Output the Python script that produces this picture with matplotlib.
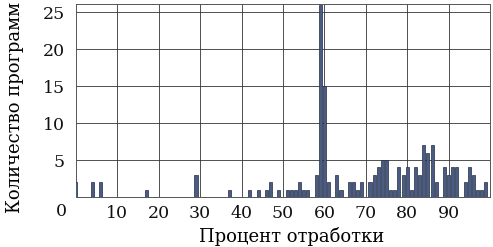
import matplotlib
matplotlib.use("Agg")
import matplotlib.pyplot as plt

percent = [0, 4, 6, 17, 29, 37, 42, 44, 46, 47, 49, 51, 52, 53, 54, 55, 56, 58,
           59, 60, 61, 63, 64, 66, 67, 68, 69, 71, 72, 73, 74, 75, 76, 77, 78,
           79, 80, 81, 82, 83, 84, 85, 86, 87, 89, 90, 91, 92, 94, 95, 96, 97,
           98, 99]
counts = [2, 2, 2, 1, 3, 1, 1, 1, 1, 2, 1, 1, 1, 1, 2, 1, 1, 3,
          26, 15, 2, 3, 1, 2, 2, 1, 2, 2, 3, 4, 5, 5, 1, 1, 4,
          3, 4, 1, 4, 3, 7, 6, 7, 2, 4, 3, 4, 4, 2, 4, 3, 1,
          1, 2]
xticks = [10, 20, 30, 40, 50, 60, 70, 80, 90]
yticks = [5, 10, 15, 20, 25]

plt.rcParams['font.family'] = ['DejaVu Serif']

fig = plt.figure(figsize=(4.93, 2.47), dpi=100)
ax = fig.add_axes([0.154, 0.2024, 0.84, 0.782])

ax.bar(percent, counts, width=0.75, color='#4b5b82', edgecolor='#1f2b47',
       linewidth=0.5, zorder=3)

ax.set_xlim(0, 100)
ax.set_ylim(0, 26.15)
ax.set_xticks(xticks)
ax.set_xticklabels([str(t) for t in xticks])
ax.set_yticks(yticks)
ax.set_yticklabels([str(t) for t in yticks])
ax.tick_params(axis='both', length=0, labelsize=12.5, colors='#111111')
ax.tick_params(axis='x', pad=6)
ax.tick_params(axis='y', pad=8)
ax.grid(True, color='#333333', linewidth=0.6, zorder=0)
for s in ax.spines.values():
    s.set_color('#555555')
    s.set_linewidth(0.7)

ax.annotate('0', xy=(0, 0), xycoords='axes fraction', xytext=(-15, -6),
            textcoords='offset pixels', ha='center', va='top', fontsize=12.5,
            color='#111111')

ax.set_xlabel('Процент отработки', fontsize=13)
ax.xaxis.set_label_coords(0.522, -0.155)
ax.set_ylabel('Количество программ', fontsize=13)
ax.yaxis.set_label_coords(-0.125, 0.465)

fig.savefig('out.png', dpi=100)
